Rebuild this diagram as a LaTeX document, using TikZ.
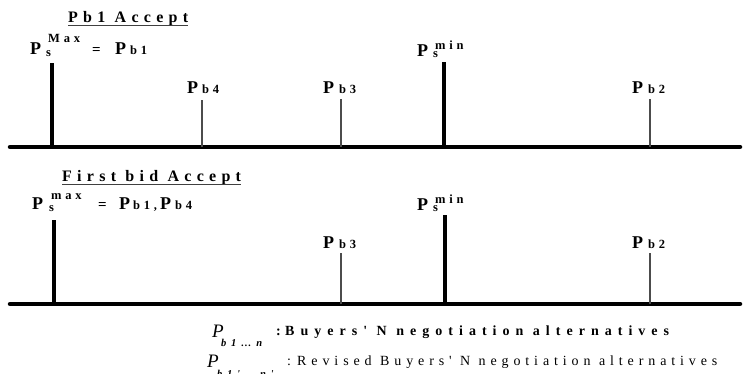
\documentclass[tikz,border=0pt]{standalone}
\usepackage{fontspec}
\setmainfont{Liberation Serif}
\newfontfamily\titlefont[LetterSpace=33]{Liberation Serif}
\newfontfamily\subfont[LetterSpace=30]{Liberation Serif}
\newfontfamily\legsubfont[LetterSpace=45]{Liberation Serif}
\newfontfamily\legAfont[LetterSpace=43]{Liberation Serif}
\newfontfamily\legBfont[LetterSpace=35]{Liberation Serif}
\usetikzlibrary{calc,positioning}

\tikzset{
  axis/.style={line width=4.5pt,line cap=round},
  major/.style={line width=3.6pt},
  minor/.style={line width=1.3pt,black!70},
  uline/.style={line width=0.9pt,black!75},
  lbl/.style={draw=none,fill=none,inner sep=0pt,anchor=base west},
  bigp/.style={lbl,font=\fontsize{18}{18}\selectfont\bfseries},
  small/.style={lbl,font=\fontsize{12.5}{12.5}\selectfont\bfseries\subfont},
  eq/.style={lbl,font=\fontsize{15}{15}\selectfont\bfseries},
  ttl/.style={lbl,font=\fontsize{16}{16}\selectfont\bfseries\titlefont},
  legp/.style={lbl,font=\fontsize{19}{19}\selectfont\itshape},
  legsub/.style={lbl,font=\fontsize{10.5}{10.5}\selectfont\bfseries\itshape\legsubfont},
  legA/.style={lbl,font=\fontsize{14}{14}\selectfont\bfseries\legAfont},
  legB/.style={lbl,font=\fontsize{14}{14}\selectfont\legBfont},
}

\begin{document}
\begin{tikzpicture}[x=1pt,y=-1pt]
  \useasboundingbox (0,0) rectangle (743,374);

  % Pb1 Accept
  \node[ttl] (ttitle) at (68,23) {Pb1 Accept};
  \draw[uline] ($(ttitle.base west)+(0,2.5)$) -- ($(ttitle.base east)+(0,2.5)$);

  % Top axis
  \coordinate (taxisL) at (10,147);
  \coordinate (taxisR) at (740,147);
  \draw[axis] (taxisL) -- (taxisR);

  % Ticks of the top axis
  \coordinate (tmax) at (52,147);  \coordinate (tmaxtop) at ($(tmax)+(0,-84)$);
  \coordinate (tb4) at (202,147);  \coordinate (tb4top) at ($(tb4)+(0,-47)$);
  \coordinate (tb3) at (341,147);  \coordinate (tb3top) at ($(tb3)+(0,-48)$);
  \coordinate (tmin) at (444,147); \coordinate (tmintop) at ($(tmin)+(0,-85)$);
  \coordinate (tb2) at (650,147);  \coordinate (tb2top) at ($(tb2)+(0,-48)$);
  \draw[major] (tmax) -- (tmaxtop);
  \draw[minor] (tb4) -- (tb4top);
  \draw[minor] (tb3) -- (tb3top);
  \draw[major] (tmin) -- (tmintop);
  \draw[minor] (tb2) -- (tb2top);

  % Labels of the top axis
  \node[bigp]  (tmaxP) at (30,55) {P};
  \node[small] (tmaxs) at (46,57) {s};
  \node[small] (tmaxsup) at (48,43) {Max};
  \node[eq]    (teq) at (92,55) {=};
  \node[bigp]  (tb1P) at (115,55) {P};
  \node[small] (tb1s) at (130,55) {b1};
  \node[bigp]  (tb4P) at (187,94) {P};
  \node[small] (tb4s) at (202,94) {b4};
  \node[bigp]  (tb3P) at (323,94) {P};
  \node[small] (tb3s) at (339,94) {b3};
  \node[bigp]  (tminP) at (417,57) {P};
  \node[small] (tmins) at (433,58) {s};
  \node[small] (tminsup) at (435,50) {min};
  \node[bigp]  (tb2P) at (632,94) {P};
  \node[small] (tb2s) at (648,94) {b2};

  % First bid Accept
  \node[ttl] (btitle) at (62,182) {First bid Accept};
  \draw[uline] ($(btitle.base west)+(0,2.5)$) -- ($(btitle.base east)+(0,2.5)$);

  % Bottom axis
  \coordinate (baxisL) at (10,304);
  \coordinate (baxisR) at (740,304);
  \draw[axis] (baxisL) -- (baxisR);

  % Ticks of the bottom axis
  \coordinate (bmax) at (54,304);  \coordinate (bmaxtop) at ($(bmax)+(0,-84)$);
  \coordinate (bb3) at (341,304);  \coordinate (bb3top) at ($(bb3)+(0,-51)$);
  \coordinate (bmin) at (445,304); \coordinate (bmintop) at ($(bmin)+(0,-89)$);
  \coordinate (bb2) at (650,304);  \coordinate (bb2top) at ($(bb2)+(0,-51)$);
  \draw[major] (bmax) -- (bmaxtop);
  \draw[minor] (bb3) -- (bb3top);
  \draw[major] (bmin) -- (bmintop);
  \draw[minor] (bb2) -- (bb2top);

  % Labels of the bottom axis
  \node[bigp]  (bmaxP) at (32,209) {P};
  \node[small] (bmaxs) at (49,211) {s};
  \node[small] (bmaxsup) at (51,199) {max};
  \node[eq]    (beq) at (98,209) {=};
  \node[bigp]  (bb1P) at (119,209) {P};
  \node[small] (bb1s) at (133,209) {b1,};
  \node[bigp]  (bb4P) at (160,209) {P};
  \node[small] (bb4s) at (175,209) {b4};
  \node[bigp]  (bb3P) at (323,248) {P};
  \node[small] (bb3s) at (339,248) {b3};
  \node[bigp]  (bminP) at (417,210) {P};
  \node[small] (bmins) at (433,211) {s};
  \node[small] (bminsup) at (435,203) {min};
  \node[bigp]  (bb2P) at (632,248) {P};
  \node[small] (bb2s) at (648,248) {b2};

  % Legend
  \node[legp]   (leg1P) at (212,337) {P};
  \node[legsub] (leg1s) at (221,346) {b1…n};
  \node[legA]   (leg1c) at (276,335) {:};
  \node[legA]   (leg1) at (285,335) {Buyers' N negotiation alternatives};
  \node[legp]   (leg2P) at (207,367) {P};
  \node[legsub] (leg2s) at (217,377) {b1'…n'};
  \node[legB]   (leg2c) at (287,365) {:};
  \node[legB]   (leg2) at (297,365) {Revised Buyers' N negotiation alternatives};
\end{tikzpicture}
\end{document}
